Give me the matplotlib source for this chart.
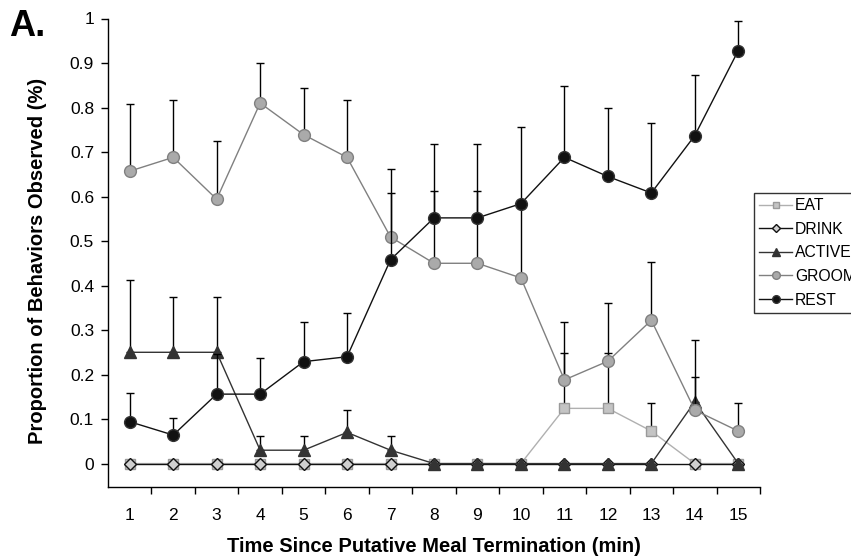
import numpy as np
import matplotlib.pyplot as plt

plt.rcParams['font.family'] = ['Liberation Sans', 'DejaVu Sans']

# proportion of behaviours per minute after meal termination (mean + upper SEM)
minutes = np.arange(1, 16)

eat = [0, 0, 0, 0, 0, 0, 0, 0, 0, 0, 0.124, 0.124, 0.073, 0, 0]
eat_err = [0, 0, 0, 0, 0, 0, 0, 0, 0, 0, 0.124, 0.124, 0.064, 0, 0]

drink = [0] * 15
drink_err = [0] * 15

active = [0.25, 0.25, 0.25, 0.03, 0.03, 0.07, 0.03, 0, 0, 0, 0, 0, 0, 0.139, 0]
active_err = [0.162, 0.125, 0.125, 0.033, 0.033, 0.05, 0.033, 0, 0, 0, 0, 0, 0, 0.138, 0]

groom = [0.657, 0.688, 0.594, 0.81, 0.739, 0.688, 0.509, 0.45, 0.45, 0.417,
         0.188, 0.23, 0.322, 0.12, 0.073]
groom_err = [0.152, 0.129, 0.13, 0.091, 0.104, 0.129, 0.098, 0.163, 0.163, 0.16,
             0.13, 0.13, 0.131, 0.074, 0.064]

rest = [0.094, 0.064, 0.156, 0.156, 0.229, 0.24, 0.458, 0.552, 0.552, 0.584,
        0.688, 0.645, 0.608, 0.737, 0.928]
rest_err = [0.065, 0.039, 0.09, 0.082, 0.089, 0.099, 0.204, 0.166, 0.166, 0.172,
            0.16, 0.153, 0.157, 0.135, 0.066]

series = [
    # label, values, errors, marker, size, face, edge, line colour
    ('EAT', eat, eat_err, 's', 7.5, '#c4c4c4', '#9a9a9a', '#b0b0b0'),
    ('DRINK', drink, drink_err, 'D', 6.5, '#d0d0d0', '#111111', '#111111'),
    ('ACTIVE', active, active_err, '^', 9, '#333333', '#333333', '#333333'),
    ('GROOM', groom, groom_err, 'o', 8.5, '#aaaaaa', '#808080', '#808080'),
    ('REST', rest, rest_err, 'o', 8.5, '#111111', '#333333', '#111111'),
]

fig = plt.figure(figsize=(8.51, 5.59), dpi=100)
ax = fig.add_axes([108 / 851, 1 - 486.7 / 559, (760 - 108) / 851, (486.7 - 18.5) / 559])

handles = []
for i, (name, vals, errs, mk, ms, fc, ec, lc) in enumerate(series):
    z = 2 + i * 2
    vals = np.array(vals)
    errs = np.array(errs)
    ax.errorbar(minutes, vals, yerr=[np.zeros_like(errs), errs], fmt='none',
                ecolor='black', elinewidth=1, capsize=3, capthick=1, zorder=z)
    line, = ax.plot(minutes, vals, color=lc, lw=1, marker=mk, ms=ms,
                    markerfacecolor=fc, markeredgecolor=ec, markeredgewidth=1,
                    zorder=z + 1, label=name)
    handles.append(line)

ax.set_xlim(0.5, 15.5)
ax.set_ylim(-0.052, 1.0)

ax.set_yticks(np.arange(0, 1.01, 0.1))
ax.set_yticklabels(['0', '0.1', '0.2', '0.3', '0.4', '0.5', '0.6', '0.7', '0.8', '0.9', '1'])
ax.set_xticks(minutes)
ax.set_xticklabels([str(m) for m in minutes])
ax.set_xticks(np.arange(1.5, 15.6, 1), minor=True)
ax.tick_params(axis='x', which='major', length=0, pad=15, labelsize=12.5)
ax.tick_params(axis='x', which='minor', length=5, width=1, direction='out')
ax.tick_params(axis='y', length=5, width=1, direction='out', labelsize=12.5, pad=5)

for s in ['top', 'right']:
    ax.spines[s].set_visible(False)
for s in ['left', 'bottom']:
    ax.spines[s].set_linewidth(1)
    ax.spines[s].set_color('black')

fig.text(434 / 851, 1 - 547 / 559, 'Time Since Putative Meal Termination (min)',
         ha='center', va='center', fontsize=14.5, fontweight='bold')
fig.text(38 / 851, 1 - 261 / 559, 'Proportion of Behaviors Observed (%)',
         ha='center', va='center', rotation=90, fontsize=14.5, fontweight='bold')
fig.text(9 / 851, 1 - 26 / 559, 'A.', ha='left', va='center',
         fontsize=26, fontweight='bold')

leg = fig.legend(handles=handles, loc='upper left',
                 bbox_to_anchor=(754 / 851, 1 - 192.5 / 559),
                 fontsize=11.3, frameon=True, fancybox=False, borderpad=0.35,
                 handlelength=2.1, handletextpad=0.15, borderaxespad=0,
                 labelspacing=0.55, markerscale=0.65)
leg.get_frame().set_edgecolor('black')
leg.get_frame().set_linewidth(1)

fig.savefig('out.png', dpi=100)
